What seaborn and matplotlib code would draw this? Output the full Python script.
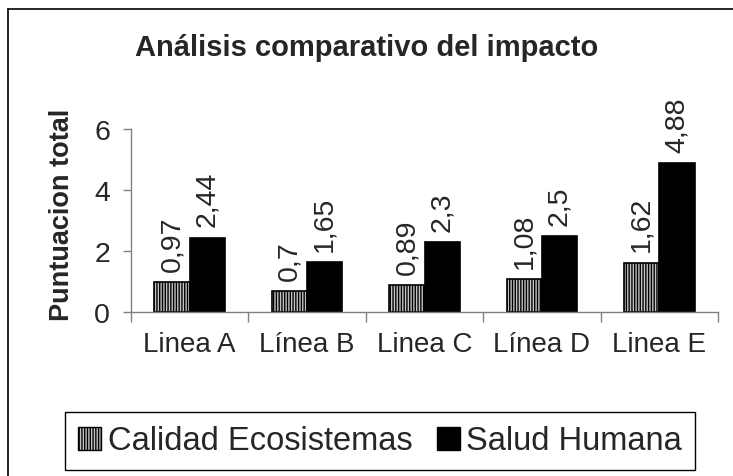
import matplotlib
matplotlib.use('Agg')
import matplotlib.pyplot as plt
import seaborn as sns
import pandas as pd
from matplotlib.patches import Patch
from matplotlib.lines import Line2D

# datos
categorias = ['Linea A', 'Línea B', 'Linea C', 'Línea D', 'Linea E']
calidad_ecosistemas = [0.97, 0.7, 0.89, 1.08, 1.62]
salud_humana = [2.44, 1.65, 2.3, 2.5, 4.88]
series = ['Calidad Ecosistemas', 'Salud Humana']
yticks = [0, 2, 4, 6]

df = pd.DataFrame({
    'Linea': categorias * 2,
    'Serie': [series[0]] * len(categorias) + [series[1]] * len(categorias),
    'Puntuacion': calidad_ecosistemas + salud_humana,
})

sns.set_theme(style='white')
plt.rcParams['font.family'] = ['Liberation Sans', 'DejaVu Sans']
plt.rcParams['hatch.linewidth'] = 1.0

W, H = 733, 477
fig = plt.figure(figsize=(W / 100, H / 100), dpi=100)
ax = fig.add_axes([131 / W, 1 - 313 / H, (718 - 131) / W, (313 - 130) / H])

sns.barplot(data=df, x='Linea', y='Puntuacion', hue='Serie',
            palette=['#c4c4c4', 'black'], width=0.6, saturation=1,
            edgecolor='black', linewidth=1.2, legend=False, ax=ax)

for bar in ax.containers[0]:
    bar.set_hatch('||||||')

# etiquetas de valor con coma decimal
for cont in ax.containers:
    etiquetas = [f'{v:g}'.replace('.', ',') for v in cont.datavalues]
    ax.bar_label(cont, labels=etiquetas, rotation=90, padding=8, fontsize=20.5)

ax.set_ylim(0, 6)
ax.set_yticks(yticks)
ax.set_xlim(-0.5, len(categorias) - 0.5)
ax.set_xticks(range(len(categorias)))
ax.set_xticklabels(categorias)
ax.set_xticks([i - 0.5 for i in range(len(categorias) + 1)], minor=True)

for s in ['top', 'right']:
    ax.spines[s].set_visible(False)
for s in ['left', 'bottom']:
    ax.spines[s].set_color('#808080')
    ax.spines[s].set_linewidth(1)

ax.tick_params(axis='y', left=True, direction='out', length=6, width=1,
               color='#808080', labelsize=20.5, pad=9)
ax.tick_params(axis='x', which='major', bottom=True, length=0, labelsize=20, pad=14)
ax.tick_params(axis='x', which='minor', bottom=True, direction='out', length=7,
               width=1, color='#808080')

ax.set_xlabel('')
ax.set_ylabel('Puntuacion total', fontsize=19.5, fontweight='bold')
ax.yaxis.set_label_coords(75 / W, 1 - 215 / H, transform=fig.transFigure)

fig.text(0.5, 1 - 48 / H, 'Análisis comparativo del impacto', ha='center',
         va='center', fontsize=21, fontweight='bold')

handles = [
    Patch(facecolor='#c4c4c4', edgecolor='black', hatch='||||||', label=series[0]),
    Patch(facecolor='black', edgecolor='black', label=series[1]),
]
leg = fig.legend(handles=handles, loc='center', bbox_to_anchor=(380 / W, 1 - 442 / H),
                 ncol=2, fontsize=23.5, frameon=True, fancybox=False,
                 edgecolor='black', framealpha=1, handlelength=0.7,
                 handleheight=0.7, handletextpad=0.2, columnspacing=0.75,
                 borderpad=0.4, borderaxespad=0)
leg.get_frame().set_linewidth(1)

# marco del area del grafico
fig.add_artist(Line2D([8 / W, 8 / W], [0, 1 - 10 / H], transform=fig.transFigure,
                      color='black', lw=1.2))
fig.add_artist(Line2D([8 / W, 1], [1 - 10 / H, 1 - 10 / H], transform=fig.transFigure,
                      color='black', lw=1.2))

fig.savefig('out.png', dpi=100)
